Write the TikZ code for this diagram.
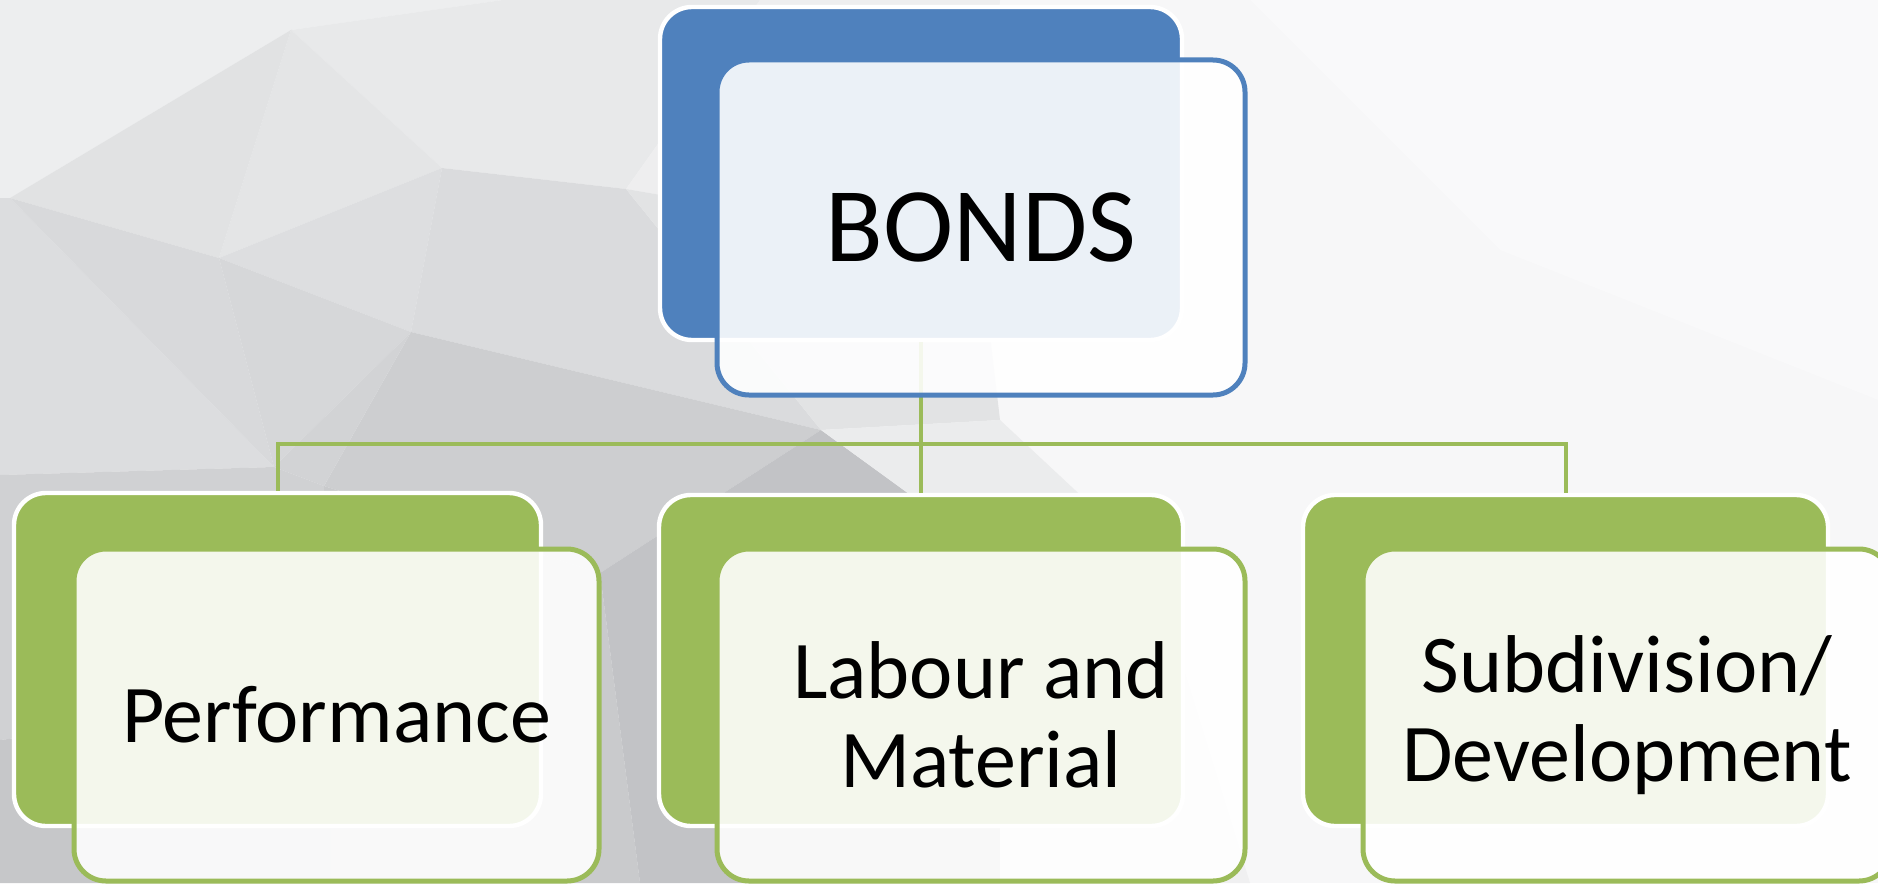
\documentclass[tikz,border=0pt]{standalone}
\usepackage{fontspec}
\setmainfont{Carlito}
\definecolor{bblue}{HTML}{4F81BD}
\definecolor{bgreen}{HTML}{9BBB59}
\definecolor{bgA}{HTML}{F7F7F8}
\newcommand\bgpoly[2]{\definecolor{bgtmp}{HTML}{#1}\fill[bgtmp] #2;}
\begin{document}
\begin{tikzpicture}[x=0.5pt,y=-0.5pt,
  backbox/.style={draw=white,line width=2.2pt,rounded corners=16pt,inner sep=0pt},
  frontbox/.style={line width=2.5pt,rounded corners=16pt,fill=white,fill opacity=0.89,text opacity=1,
     minimum width=264pt,minimum height=166pt,inner sep=0pt,align=center},
  conn/.style={draw=bgreen,line width=2pt},
  lbl/.style={font=\fontsize{41}{44.5}\selectfont}
]
\useasboundingbox (0,0) rectangle (1878,883);
% ---------- background (low-poly) ----------
\fill[bgA] (0,0) rectangle (1878,883);
\bgpoly{F9F9FA}{(1250,0) -- (1878,0) -- (1878,400) -- (1500,250) -- cycle}
\bgpoly{EDEEEF}{(0,0) -- (503,0) -- (291,30) -- (10,198) -- (0,198) -- cycle}
\bgpoly{E8E9EA}{(291,30) -- (503,0) -- (760,0) -- (626,189) -- (442,168) -- cycle}
\bgpoly{EEEEEF}{(760,0) -- (1000,0) -- (980,250) -- (626,189) -- cycle}
\bgpoly{E4E5E6}{(291,30) -- (442,168) -- (219,258) -- cycle}
\bgpoly{E1E2E3}{(10,198) -- (291,30) -- (219,258) -- cycle}
\bgpoly{DCDDDF}{(0,198) -- (10,198) -- (274,467) -- (0,475) -- cycle}
\bgpoly{D8D9DB}{(10,198) -- (219,258) -- (274,467) -- cycle}
\bgpoly{DDDEE0}{(219,258) -- (442,168) -- (411,332) -- cycle}
\bgpoly{D6D7D9}{(219,258) -- (411,332) -- (274,467) -- cycle}
\bgpoly{DADBDD}{(442,168) -- (626,189) -- (821,430) -- (411,332) -- cycle}
\bgpoly{E2E3E4}{(626,189) -- (980,250) -- (1000,420) -- (821,430) -- cycle}
\bgpoly{CDCED0}{(411,332) -- (821,430) -- (600,573) -- (324,486) -- cycle}
\bgpoly{D2D3D5}{(274,467) -- (411,332) -- (324,486) -- cycle}
\bgpoly{D0D1D3}{(0,475) -- (274,467) -- (324,486) -- (330,700) -- (0,740) -- cycle}
\bgpoly{C9CACC}{(324,486) -- (600,573) -- (640,883) -- (330,883) -- (330,700) -- cycle}
\bgpoly{C6C7C9}{(0,740) -- (330,700) -- (330,883) -- (0,883) -- cycle}
\bgpoly{C2C3C6}{(600,573) -- (821,430) -- (1000,560) -- (1000,883) -- (640,883) -- cycle}
\bgpoly{EBECED}{(821,430) -- (1000,420) -- (1150,560) -- (1000,560) -- cycle}
\bgpoly{F0F0F1}{(1000,560) -- (1150,560) -- (1250,883) -- (1000,883) -- cycle}
% ---------- back boxes ----------
\node[backbox,fill=bblue,minimum width=261pt,minimum height=166.5pt] (b0) at (921,173.5) {};
\node[backbox,fill=bgreen,minimum width=263.5pt,minimum height=166.5pt] (g1) at (277.5,659.5) {};
\node[backbox,fill=bgreen,minimum width=262pt,minimum height=165.5pt] (g2) at (921,660.5) {};
\node[backbox,fill=bgreen,minimum width=262.5pt,minimum height=165.5pt] (g3) at (1565.5,660.5) {};
\coordinate (bus) at (921,444);
% ---------- connectors ----------
\draw[conn] (b0.south) -- (g2.north);
\draw[conn] (g1.north) |- (g3.north |- bus) -- (g3.north);
% ---------- front boxes ----------
\node[frontbox,draw=bblue,minimum height=167.5pt,font=\fontsize{53}{60}\selectfont] (f0) at (981,227.5) {BONDS};
\node[frontbox,draw=bgreen,minimum width=262.5pt,lbl] (f1) at (336.5,715) {Performance};
\node[frontbox,draw=bgreen,lbl] (f2) at (981,715) {Labour and\\Material};
\node[frontbox,draw=bgreen,lbl] (f3) at (1627,715) {Subdivision/\\Development};
\end{tikzpicture}
\end{document}
